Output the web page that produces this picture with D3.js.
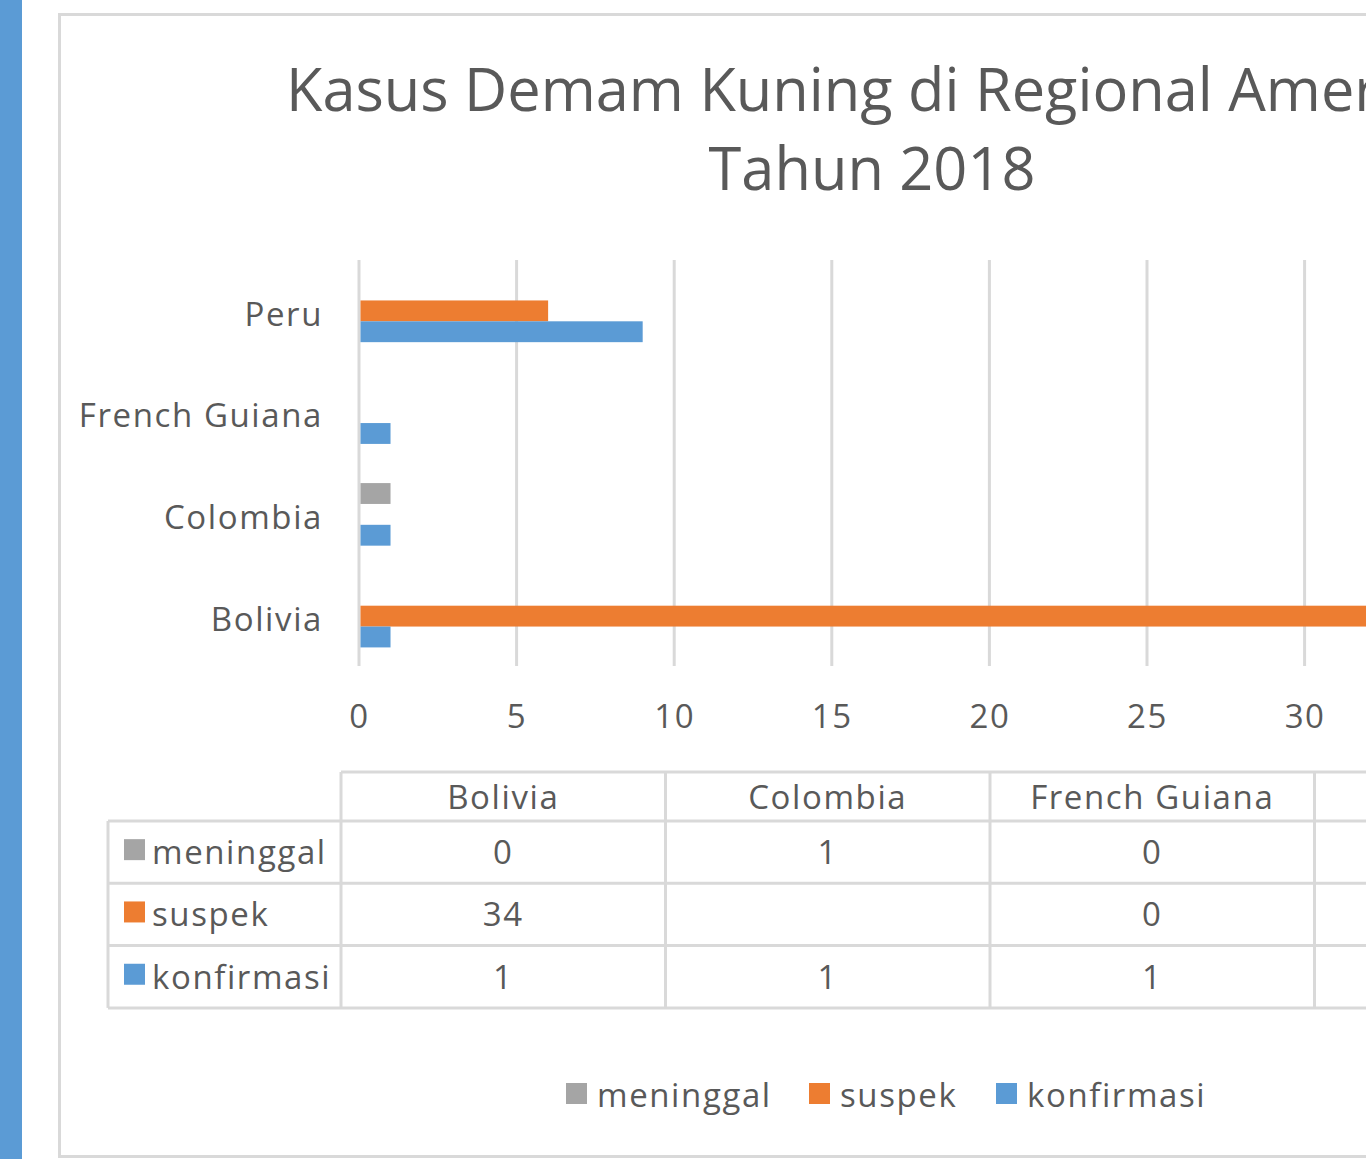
<!DOCTYPE html>
<html><head><meta charset="utf-8">
<script src="https://cdn.jsdelivr.net/npm/d3@7"></script>
<style>html,body{margin:0;padding:0;background:#fff;overflow:hidden}svg{display:block}</style>
</head><body>
<script>
// ---- data ----
const categories = ["Bolivia", "Colombia", "French Guiana", "Peru"];
const seriesNames = ["meninggal", "suspek", "konfirmasi"];
const meninggal = [0, 1, 0, 0];
const suspek = [34, null, 0, 6];
const konfirmasi = [1, 1, 1, 9];
const xTicks = [0, 5, 10, 15, 20, 25, 30, 35, 40];
const titleLines = ["Kasus Demam Kuning di Regional Amerika", "Tahun 2018"];

const seriesValues = {meninggal, suspek, konfirmasi};
const colors = {meninggal: "#A5A5A5", suspek: "#ED7D31", konfirmasi: "#5B9BD5"};
const textColor = "#595959", gridColor = "#D9D9D9";
const FONT = "'Open Sans', sans-serif";
const LBL = "33px", LS = "1.6px";

const W = 1366, H = 1159;
const svg = d3.select("body").append("svg").attr("width", W).attr("height", H)
  .style("font-family", FONT);

// side strip and chart frame
svg.append("rect").attr("x", 0).attr("y", 0).attr("width", 22).attr("height", H).attr("fill", "#5B9BD5");
svg.append("rect").attr("x", 59.5).attr("y", 14.5).attr("width", 1640).attr("height", 1142)
  .attr("fill", "#fff").attr("stroke", gridColor).attr("stroke-width", 3);

// title
const title = svg.append("text").attr("text-anchor", "middle").attr("fill", textColor)
  .style("font-size", "59.5px");
title.append("tspan").attr("x", 872).attr("y", 111).text(titleLines[0]);
title.append("tspan").attr("x", 872).attr("y", 190).text(titleLines[1]);

// scales
const x = d3.scaleLinear().domain([0, 40]).range([359, 359 + 40 * 31.52]);
const yOrder = categories.slice().reverse(); // Peru at top
const y = d3.scaleBand().domain(yOrder).range([260, 667]).paddingInner(0.385).paddingOuter(0.1925);
const ys = d3.scaleBand().domain(seriesNames).range([0, y.bandwidth()]);

// gridlines
svg.append("g").selectAll("line").data(xTicks).join("line")
  .attr("x1", d => x(d)).attr("x2", d => x(d)).attr("y1", 260).attr("y2", 666)
  .attr("stroke", gridColor).attr("stroke-width", 3);

// bars
const barData = [];
categories.forEach((c, i) => seriesNames.forEach(s => {
  const v = seriesValues[s][i];
  if (v != null && v > 0) barData.push({c, s, v});
}));
svg.append("g").selectAll("rect").data(barData).join("rect")
  .attr("x", x(0) + 1.5).attr("y", d => y(d.c) + ys(d.s))
  .attr("width", d => x(d.v) - x(0) - 1.5).attr("height", ys.bandwidth())
  .attr("fill", d => colors[d.s]);

// x axis tick labels
const xAxis = svg.append("g").attr("transform", "translate(0,666)")
  .call(d3.axisBottom(x).tickValues(xTicks).tickSize(0).tickPadding(39));
xAxis.select(".domain").remove();
xAxis.selectAll("text").attr("fill", textColor).style("font-size", LBL).style("letter-spacing", LS)
  .style("font-family", FONT);

// y axis category labels
const yAxis = svg.append("g").attr("transform", "translate(323,0)")
  .call(d3.axisLeft(y).tickSize(0).tickPadding(0));
yAxis.select(".domain").remove();
yAxis.selectAll("text").attr("fill", textColor).attr("dy", "0.45em").style("font-size", LBL)
  .style("letter-spacing", LS).style("font-family", FONT);

// data table
const colX = d3.scaleBand().domain(categories).range([341, 341 + 4 * 324.5]);
const tableTop = 772, headerH = 49, rowH = 62.3;
const rowY = d3.scaleBand().domain(seriesNames).range([tableTop + headerH, tableTop + headerH + 3 * rowH]);
const tbl = svg.append("g");
const tLine = (x1, y1, x2, y2) => tbl.append("line").attr("x1", x1).attr("y1", y1).attr("x2", x2).attr("y2", y2)
  .attr("stroke", gridColor).attr("stroke-width", 3);
const tRight = colX.range()[1];
const tBottom = rowY.range()[1];
tLine(341, tableTop, tRight, tableTop);
rowY.domain().forEach(s => tLine(108, rowY(s), tRight, rowY(s)));
tLine(108, tBottom, tRight, tBottom);
tLine(108, tableTop + headerH, 108, tBottom);
categories.forEach(c => tLine(colX(c), tableTop, colX(c), tBottom));
tLine(tRight, tableTop, tRight, tBottom);

const txt = (sel) => sel.attr("fill", textColor).style("font-size", LBL).style("letter-spacing", LS);

// header
tbl.selectAll("text.hdr").data(categories).join("text").attr("class", "hdr")
  .attr("x", c => colX(c) + colX.bandwidth() / 2).attr("y", tableTop + headerH / 2 + 1)
  .attr("dy", "0.36em").attr("text-anchor", "middle").call(txt).text(c => c);
// row labels with keys
seriesNames.forEach(s => {
  const cy = rowY(s) + rowY.bandwidth() / 2;
  tbl.append("rect").attr("x", 124).attr("y", cy - 13).attr("width", 21).attr("height", 21).attr("fill", colors[s]);
  tbl.append("text").attr("x", 152).attr("y", cy).attr("dy", "0.36em").call(txt).text(s);
  categories.forEach((c, i) => {
    const v = seriesValues[s][i];
    if (v == null) return;
    tbl.append("text").attr("x", colX(c) + colX.bandwidth() / 2).attr("y", cy).attr("dy", "0.36em")
      .attr("text-anchor", "middle").call(txt).text(v);
  });
});

// legend
const legend = svg.append("g");
const legX = [566, 809, 996];
seriesNames.forEach((s, i) => {
  legend.append("rect").attr("x", legX[i]).attr("y", 1083).attr("width", 21).attr("height", 21).attr("fill", colors[s]);
  legend.append("text").attr("x", legX[i] + 31).attr("y", 1095).attr("dy", "0.36em").call(txt).text(s);
});
</script>
</body></html>
